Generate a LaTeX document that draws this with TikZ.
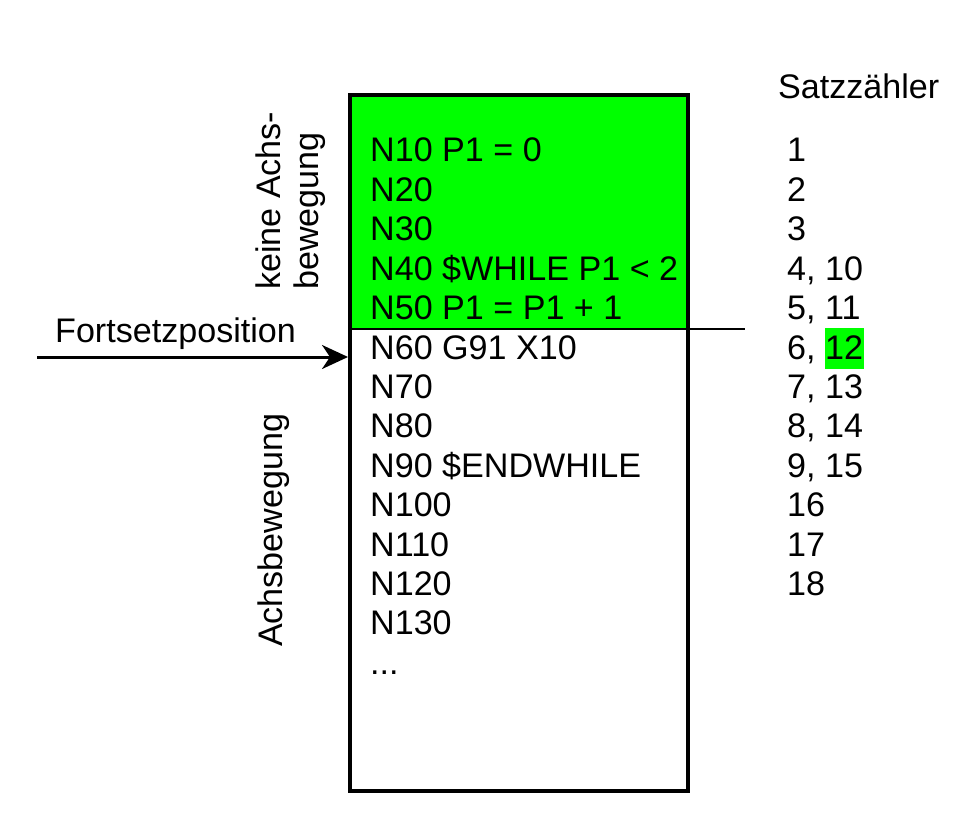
\documentclass[tikz,border=0pt]{standalone}
\usepackage{fontspec}
\setmainfont{Liberation Sans}
\usetikzlibrary{arrows.meta}
\definecolor{hlgreen}{RGB}{0,255,0}
\tikzset{
  txt/.style={anchor=base west, inner sep=0pt, font=\fontsize{34.1}{40}\selectfont},
  vtxt/.style={txt, rotate=90},
  frame/.style={draw=black, line width=3.2pt},
  conn/.style={draw=black, line width=3pt},
}
\begin{document}
\begin{tikzpicture}[x=1pt,y=-1pt]
\useasboundingbox (0,0) rectangle (976,821);
% green area
\fill[hlgreen] (350,95) rectangle (688,329);
% highlight of 12
\fill[hlgreen] (825,328) rectangle (864,369);
% box
\draw[frame] (350,95) rectangle (688,791);
\coordinate (sepL) at (350,329);
\coordinate (sepR) at (745,329);
\draw[conn, line width=2.6pt] (sepL) -- (sepR);
% program lines
\foreach \t [count=\i from 0] in {N10 P1 = 0, N20, N30, N40 \$WHILE P1 < 2, N50 P1 = P1 + 1, N60 G91 X10, N70, N80, N90 \$ENDWHILE, N100, N110, N120, N130}{
  \node[txt] (line\i) at (370,{162+39.4*\i}) {\t};
}
\node[txt] (dots) at (370,{162+39.4*13}) {...};
% counter column
\node[txt] (head) at (778,99) {Satzzähler};
\foreach \t [count=\i from 0] in {1, 2, 3, {4, 10}, {5, 11}, {6, 12}, {7, 13}, {8, 14}, {9, 15}, 16, 17, 18}{
  \node[txt] (cnt\i) at (787,{162+39.4*\i}) {\t};
}
% side labels
\node[vtxt] (keine) at (280,290) {keine Achs-};
\node[vtxt] (bew) at (318,290) {bewegung};
\node[vtxt] (achs) at (282,647) {Achsbewegung};
\node[txt] (fort) at (55,342) {Fortsetzposition};
% arrow
\coordinate (arrS) at (37,357);
\coordinate (arrE) at (348,357);
\draw[conn, -{Stealth[length=26pt,width=24pt,inset=8pt]}] (arrS) -- (arrE);
\end{tikzpicture}
\end{document}
